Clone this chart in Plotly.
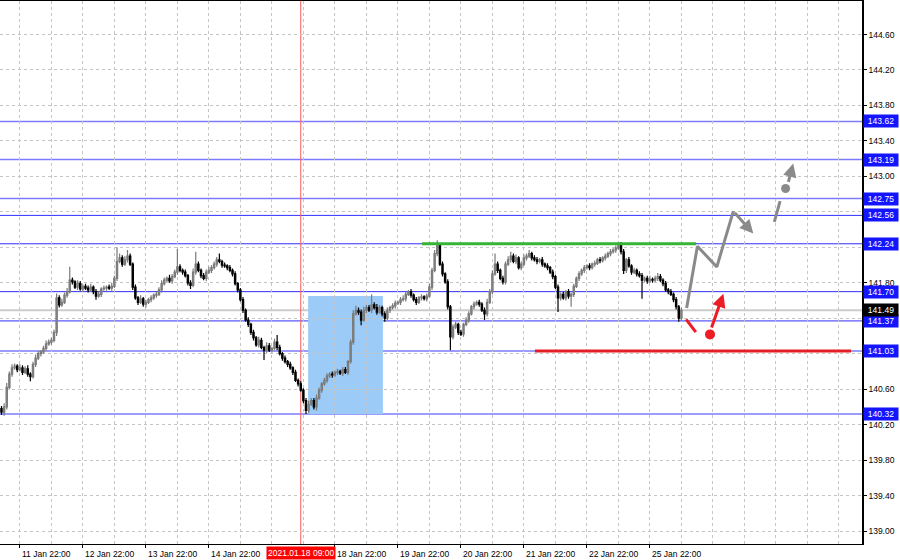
import plotly.graph_objects as go

# hourly USDJPY-style bars (bar index 0 = 11 Jan ~14:00)
closes = [
    140.34, 140.40, 140.62, 140.77, 140.84, 140.86, 140.82, 140.84, 140.79, 140.83, 140.77, 140.74,
    140.88, 140.95, 141.00, 141.02, 141.06, 141.11, 141.13, 141.15, 141.24, 141.63, 141.55, 141.58,
    141.66, 141.70, 141.83, 141.81, 141.75, 141.79, 141.73, 141.76, 141.74, 141.72, 141.75, 141.70,
    141.65, 141.67, 141.73, 141.74, 141.75, 141.74, 141.76, 141.85, 142.04, 142.08, 142.01, 142.06,
    142.10, 142.01, 141.75, 141.63, 141.58, 141.62, 141.56, 141.58, 141.61, 141.63, 141.66, 141.67,
    141.72, 141.79, 141.83, 141.85, 141.82, 141.87, 141.92, 141.98, 141.94, 141.92, 141.88, 141.80,
    141.77, 141.92, 142.01, 141.94, 141.88, 141.85, 141.92, 141.94, 141.97, 142.01, 142.06, 142.04,
    142.00, 141.99, 141.97, 141.94, 141.90, 141.79, 141.72, 141.61, 141.49, 141.38, 141.33, 141.24,
    141.18, 141.10, 141.15, 141.07, 141.04, 141.09, 141.04, 141.06, 141.13, 141.07, 141.00, 140.95,
    140.91, 140.88, 140.84, 140.79, 140.70, 140.66, 140.59, 140.47, 140.36, 140.43, 140.47, 140.40,
    140.50, 140.59, 140.66, 140.70, 140.75, 140.77, 140.76, 140.79, 140.80, 140.78, 140.82, 140.79,
    140.91, 141.13, 141.45, 141.49, 141.47, 141.38, 141.49, 141.52, 141.49, 141.55, 141.52, 141.47,
    141.52, 141.45, 141.40, 141.49, 141.52, 141.54, 141.57, 141.58, 141.61, 141.62, 141.67, 141.70,
    141.66, 141.61, 141.58, 141.63, 141.64, 141.62, 141.65, 141.75, 141.94, 142.13, 142.22, 142.01,
    141.90, 141.81, 141.53, 141.19, 141.30, 141.33, 141.24, 141.22, 141.33, 141.38, 141.45, 141.53,
    141.56, 141.58, 141.56, 141.49, 141.45, 141.58, 141.70, 141.90, 142.01, 141.94, 141.85, 141.81,
    142.01, 142.06, 142.10, 142.04, 142.08, 141.97, 142.01, 142.08, 142.10, 142.13, 142.08, 142.06,
    142.04, 142.06, 142.01, 141.99, 141.97, 141.92, 141.87, 141.75, 141.63, 141.67, 141.63, 141.70,
    141.65, 141.67, 141.76, 141.85, 141.90, 141.94, 141.97, 141.99, 141.97, 142.01, 142.02, 142.06,
    142.05, 142.08, 142.10, 142.13, 142.15, 142.17, 142.19, 142.22, 142.15, 141.94, 142.06, 141.99,
    141.92, 141.94, 141.90, 141.88, 141.83, 141.85, 141.82, 141.84, 141.83, 141.85, 141.87, 141.83,
    141.79, 141.72, 141.70, 141.67, 141.61, 141.53, 141.40, 141.49,
]
first_open = 140.38

# wick lengths above / below the body
upper_wick = [
    0.03, 0.04, 0.05, 0.03, 0.04, 0.03, 0.02, 0.04, 0.03, 0.03, 0.04, 0.02, 0.03, 0.04, 0.03, 0.02, 0.03, 0.04, 0.03, 0.03, 0.03, 0.05, 0.03, 0.04,
    0.03, 0.04, 0.15, 0.03, 0.02, 0.04, 0.03, 0.02, 0.03, 0.03, 0.04, 0.02, 0.03, 0.03, 0.02, 0.03, 0.02, 0.03, 0.04, 0.03, 0.16, 0.05, 0.03, 0.04,
    0.07, 0.03, 0.02, 0.03, 0.02, 0.04, 0.02, 0.03, 0.02, 0.03, 0.02, 0.03, 0.03, 0.04, 0.03, 0.02, 0.04, 0.03, 0.03, 0.20, 0.03, 0.02, 0.03, 0.02,
    0.03, 0.04, 0.14, 0.03, 0.02, 0.03, 0.03, 0.04, 0.03, 0.03, 0.03, 0.07, 0.02, 0.03, 0.02, 0.03, 0.02, 0.03, 0.02, 0.02, 0.03, 0.02, 0.03, 0.02,
    0.03, 0.02, 0.04, 0.03, 0.02, 0.04, 0.03, 0.02, 0.04, 0.08, 0.03, 0.02, 0.03, 0.02, 0.03, 0.02, 0.03, 0.02, 0.03, 0.02, 0.03, 0.04, 0.03, 0.03,
    0.04, 0.03, 0.02, 0.03, 0.03, 0.02, 0.03, 0.02, 0.03, 0.02, 0.03, 0.03, 0.02, 0.03, 0.04, 0.05, 0.03, 0.03, 0.04, 0.03, 0.03, 0.12, 0.03, 0.04,
    0.03, 0.02, 0.03, 0.03, 0.02, 0.03, 0.03, 0.02, 0.03, 0.04, 0.03, 0.02, 0.03, 0.02, 0.03, 0.02, 0.03, 0.02, 0.03, 0.04, 0.03, 0.04, 0.06, 0.03,
    0.03, 0.02, 0.03, 0.02, 0.03, 0.03, 0.02, 0.03, 0.02, 0.03, 0.03, 0.02, 0.03, 0.02, 0.03, 0.02, 0.03, 0.04, 0.03, 0.04, 0.12, 0.03, 0.02, 0.03,
    0.03, 0.04, 0.05, 0.03, 0.04, 0.02, 0.03, 0.04, 0.03, 0.04, 0.02, 0.03, 0.03, 0.02, 0.03, 0.02, 0.03, 0.02, 0.03, 0.02, 0.03, 0.02, 0.03, 0.02,
    0.03, 0.02, 0.03, 0.02, 0.03, 0.02, 0.03, 0.02, 0.03, 0.02, 0.03, 0.02, 0.03, 0.02, 0.03, 0.02, 0.03, 0.02, 0.03, 0.04, 0.04, 0.03, 0.02, 0.03,
    0.02, 0.03, 0.02, 0.03, 0.03, 0.02, 0.03, 0.04, 0.02, 0.03, 0.04, 0.03, 0.02, 0.03, 0.02, 0.03, 0.02, 0.03, 0.02, 0.03,
]
lower_wick = [
    0.03, 0.04, 0.03, 0.02, 0.03, 0.02, 0.03, 0.02, 0.03, 0.02, 0.03, 0.05, 0.02, 0.03, 0.02, 0.03, 0.02, 0.03, 0.02, 0.03, 0.02, 0.04, 0.03, 0.02,
    0.02, 0.03, 0.02, 0.03, 0.02, 0.03, 0.02, 0.03, 0.02, 0.03, 0.02, 0.03, 0.04, 0.02, 0.03, 0.02, 0.03, 0.02, 0.03, 0.02, 0.03, 0.02, 0.03, 0.02,
    0.03, 0.02, 0.03, 0.02, 0.03, 0.02, 0.03, 0.04, 0.02, 0.03, 0.02, 0.03, 0.02, 0.03, 0.02, 0.03, 0.02, 0.03, 0.02, 0.03, 0.02, 0.03, 0.02, 0.03,
    0.04, 0.02, 0.03, 0.02, 0.03, 0.02, 0.03, 0.02, 0.03, 0.02, 0.03, 0.02, 0.03, 0.02, 0.03, 0.02, 0.03, 0.02, 0.03, 0.02, 0.03, 0.02, 0.03, 0.03,
    0.03, 0.02, 0.03, 0.02, 0.11, 0.03, 0.02, 0.03, 0.02, 0.03, 0.02, 0.03, 0.02, 0.03, 0.02, 0.03, 0.02, 0.03, 0.02, 0.03, 0.04, 0.03, 0.02, 0.03,
    0.04, 0.02, 0.03, 0.02, 0.03, 0.02, 0.03, 0.02, 0.03, 0.02, 0.03, 0.02, 0.03, 0.02, 0.03, 0.02, 0.03, 0.06, 0.02, 0.03, 0.02, 0.03, 0.02, 0.03,
    0.02, 0.03, 0.04, 0.02, 0.03, 0.02, 0.03, 0.02, 0.03, 0.02, 0.03, 0.02, 0.03, 0.02, 0.03, 0.02, 0.03, 0.02, 0.03, 0.02, 0.03, 0.02, 0.03, 0.02,
    0.03, 0.02, 0.03, 0.15, 0.03, 0.02, 0.03, 0.02, 0.03, 0.02, 0.03, 0.02, 0.03, 0.02, 0.03, 0.02, 0.07, 0.03, 0.02, 0.03, 0.02, 0.03, 0.02, 0.03,
    0.03, 0.02, 0.03, 0.02, 0.03, 0.02, 0.03, 0.02, 0.03, 0.02, 0.03, 0.02, 0.03, 0.02, 0.03, 0.02, 0.03, 0.02, 0.03, 0.02, 0.16, 0.03, 0.02, 0.03,
    0.03, 0.12, 0.03, 0.02, 0.03, 0.02, 0.03, 0.02, 0.03, 0.02, 0.03, 0.02, 0.03, 0.02, 0.03, 0.02, 0.03, 0.02, 0.03, 0.02, 0.03, 0.04, 0.03, 0.02,
    0.03, 0.02, 0.03, 0.02, 0.21, 0.02, 0.03, 0.02, 0.03, 0.02, 0.03, 0.02, 0.03, 0.02, 0.03, 0.02, 0.03, 0.03, 0.04, 0.03,
]

# date labels (15 Jan 22:00 sits under the red cursor label, so it is not shown)
tick_idx = [7, 31, 55, 79, 127, 151, 175, 199, 223, 247]
tick_text = ["11 Jan 22:00", "12 Jan 22:00", "13 Jan 22:00", "14 Jan 22:00",
             "18 Jan 22:00", "19 Jan 22:00", "20 Jan 22:00", "21 Jan 22:00", "22 Jan 22:00",
             "25 Jan 22:00"]
marker_idx = 114
marker_text = "2021.01.18 09:00"

levels = [143.62, 143.19, 142.75, 142.56, 142.24, 141.70, 141.37, 141.03, 140.32]
light_levels = [143.62, 143.19, 142.75, 141.03, 140.32]
last_price = 141.49

# drawn objects (bar index, price)
box_x = [116.8, 145.3]
box_y = [140.32, 141.65]
green_x = [160.2, 264.6]
green_y = 142.24
red_x = [203.2, 323.6]
red_y = 141.03

gray_path_x = [261.0, 265.1, 272.5, 278.8]
gray_path_y = [141.515, 142.212, 141.979, 142.608]
gray_head = (286.4, 142.355)
gray_dash_x = [294.4, 296.6]
gray_dash_y = [142.487, 142.721]
gray_dot = (298.7, 142.863)
gray_arrow = [(299.6, 142.92), (301.6, 143.146)]

red_dash_x = [260.8, 264.5]
red_dash_y = [141.387, 141.244]
red_dot = (269.9, 141.218)
red_arrow = [(270.3, 141.28), (275.0, 141.677)]

opens = [first_open] + closes[:-1]
highs = [max(o, c) + w for o, c, w in zip(opens, closes, upper_wick)]
lows = [min(o, c) - w for o, c, w in zip(opens, closes, lower_wick)]
bars = list(range(len(closes)))

FONT = "Liberation Sans, Arial, sans-serif"
GRID = "#c4c4c4"

fig = go.Figure()
fig.add_trace(go.Candlestick(
    x=bars, open=opens, high=highs, low=lows, close=closes,
    increasing=dict(line=dict(color="#7a7a7a", width=1.2), fillcolor="#b4b4b4"),
    decreasing=dict(line=dict(color="#000000", width=1.2), fillcolor="#000000"),
    whiskerwidth=0, hoverinfo="skip", showlegend=False,
))

# forecast drawings
fig.add_trace(go.Scatter(x=gray_path_x, y=gray_path_y, mode="lines",
                         line=dict(color="#8a8a8a", width=3), hoverinfo="skip", showlegend=False))
fig.add_trace(go.Scatter(x=gray_dash_x, y=gray_dash_y, mode="lines",
                         line=dict(color="#8a8a8a", width=3), hoverinfo="skip", showlegend=False))
fig.add_trace(go.Scatter(x=[gray_dot[0]], y=[gray_dot[1]], mode="markers",
                         marker=dict(color="#8a8a8a", size=9), hoverinfo="skip", showlegend=False))
fig.add_trace(go.Scatter(x=red_dash_x, y=red_dash_y, mode="lines",
                         line=dict(color="#ee1c24", width=3), hoverinfo="skip", showlegend=False))
fig.add_trace(go.Scatter(x=[red_dot[0]], y=[red_dot[1]], mode="markers",
                         marker=dict(color="#ee1c24", size=10), hoverinfo="skip", showlegend=False))

shapes = []
shapes.append(dict(type="rect", xref="x", yref="y", x0=box_x[0], x1=box_x[1], y0=box_y[0], y1=box_y[1],
                   fillcolor="#9ccbf8", line=dict(width=0), layer="below"))
shapes.append(dict(type="line", xref="paper", yref="y", x0=0, x1=1, y0=last_price, y1=last_price,
                   line=dict(color="#cccccc", width=2), layer="below"))
for lv in levels:
    light = lv in light_levels
    shapes.append(dict(type="line", xref="paper", yref="y", x0=0, x1=1, y0=lv, y1=lv,
                       line=dict(color="#7b7bff" if light else "#2f2fff", width=1.5 if light else 1),
                       layer="below"))
shapes.append(dict(type="line", xref="x", yref="paper", x0=marker_idx, x1=marker_idx, y0=0, y1=1,
                   line=dict(color="#ff5a5a", width=1), layer="below"))
shapes.append(dict(type="line", xref="x", yref="y", x0=green_x[0], x1=green_x[1], y0=green_y, y1=green_y,
                   line=dict(color="#35b535", width=3)))
shapes.append(dict(type="line", xref="x", yref="y", x0=red_x[0], x1=red_x[1], y0=red_y, y1=red_y,
                   line=dict(color="#e21f26", width=3)))

ann = []
for i, t in zip(tick_idx, tick_text):
    ann.append(dict(x=i, y=0, xref="x", yref="paper", text=t, showarrow=False,
                    xanchor="left", yanchor="top", yshift=-3, font=dict(size=8.5, color="#000000")))
ann.append(dict(x=marker_idx, y=0, xref="x", yref="paper", text=marker_text, showarrow=False,
                xanchor="center", yanchor="top", yshift=-2, bgcolor="#ff0000", borderpad=1,
                font=dict(size=8.5, color="#ffffff")))
for lv in levels:
    ann.append(dict(x=1, y=lv, xref="paper", yref="y", text=f"{lv:.2f}", showarrow=False,
                    xanchor="left", xshift=1, bgcolor="#1414ff", borderpad=1, width=32,
                    font=dict(size=8.5, color="#ffffff")))
ann.append(dict(x=1, y=last_price, xref="paper", yref="y", text=f"{last_price:.2f}", showarrow=False,
                xanchor="left", xshift=1, bgcolor="#000000", borderpad=1, width=32,
                font=dict(size=8.5, color="#ffffff")))
# arrow heads
ann.append(dict(x=gray_head[0], y=gray_head[1], ax=gray_path_x[-1], ay=gray_path_y[-1],
                xref="x", yref="y", axref="x", ayref="y", text="", showarrow=True,
                arrowhead=2, arrowsize=0.9, arrowwidth=3, arrowcolor="#8a8a8a"))
ann.append(dict(x=gray_arrow[1][0], y=gray_arrow[1][1], ax=gray_arrow[0][0], ay=gray_arrow[0][1],
                xref="x", yref="y", axref="x", ayref="y", text="", showarrow=True,
                arrowhead=2, arrowsize=0.9, arrowwidth=3, arrowcolor="#8a8a8a"))
ann.append(dict(x=red_arrow[1][0], y=red_arrow[1][1], ax=red_arrow[0][0], ay=red_arrow[0][1],
                xref="x", yref="y", axref="x", ayref="y", text="", showarrow=True,
                arrowhead=2, arrowsize=0.9, arrowwidth=3, arrowcolor="#ee1c24"))

fig.update_layout(
    width=900, height=560,
    margin=dict(l=0, r=38, t=1, b=16),
    paper_bgcolor="#ffffff", plot_bgcolor="#ffffff",
    font=dict(family=FONT, size=8.5, color="#000000"),
    showlegend=False, hovermode=False,
    shapes=shapes, annotations=ann,
    xaxis=dict(
        range=[-0.57, 327.8], rangeslider=dict(visible=False),
        tickvals=tick_idx, showticklabels=False,
        ticks="outside", ticklen=3, tickcolor="#000000",
        showgrid=True, gridcolor=GRID, griddash="3px,3px", gridwidth=1,
        minor=dict(tick0=7, dtick=12, showgrid=True, gridcolor=GRID, griddash="3px,3px", ticks=""),
        showline=True, linecolor="#000000", linewidth=1, mirror=True,
        zeroline=False, fixedrange=True,
    ),
    yaxis=dict(
        side="right", range=[138.854, 144.978],
        tick0=139.0, dtick=0.4, tickformat=".2f",
        ticks="outside", ticklen=3, tickcolor="#000000",
        showgrid=True, gridcolor=GRID, griddash="3px,3px", gridwidth=1,
        showline=True, linecolor="#000000", linewidth=1.5,
        zeroline=False, fixedrange=True,
    ),
)

# drop the browser's default 8px page margin so the chart sits at the window's corner
fig.write_html("out.html", config={"displayModeBar": False},
               post_script="document.body.style.margin='0px';")
